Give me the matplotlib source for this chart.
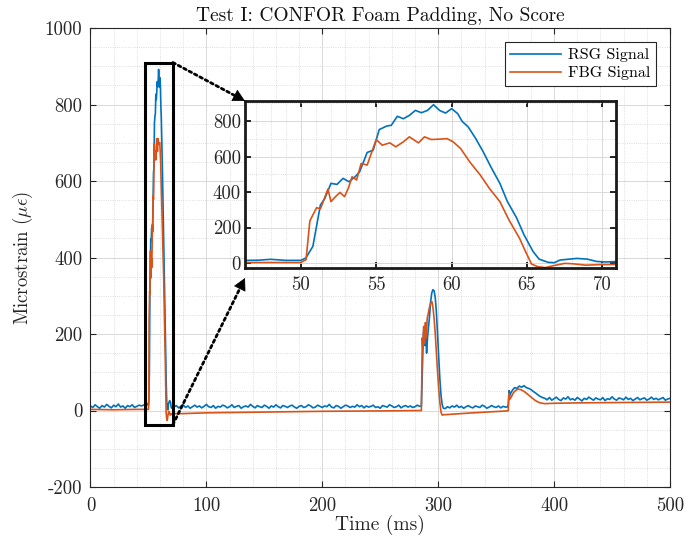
import numpy as np
import matplotlib
matplotlib.use('Agg')
import matplotlib.pyplot as plt
from matplotlib.patches import Rectangle, FancyArrowPatch
from matplotlib.ticker import MultipleLocator
import warnings
warnings.filterwarnings('ignore')

plt.rcParams['font.family'] = 'serif'
plt.rcParams['font.serif'] = ['cmr10']
plt.rcParams['mathtext.fontset'] = 'cm'
plt.rcParams['axes.unicode_minus'] = False

# ---------------- data ----------------
title = 'Test I: CONFOR Foam Padding, No Score'
labels = ['RSG Signal', 'FBG Signal']

# RSG (blue) baseline noise segments
rsg_base1 = [12, 8, 15, 10, 6, 13, 9, 16, 11, 7, 14, 10, 17, 9, 12, 6, 13, 10, 15, 8, 11, 14, 12]
rsg_base2 = [9, 13, 7, 11, 15, 8, 12, 6, 10, 14, 9, 12, 7, 11, 16, 10, 8, 13, 6, 11, 9, 14, 12, 7,
             10, 15, 8, 11, 13, 6, 10, 12, 9, 16, 11, 7, 13, 10, 8, 14, 11, 6, 12, 9, 15, 10, 7, 13,
             11, 8, 12, 14, 9, 6, 11, 13, 8, 10, 15, 12, 7, 9, 14, 11, 8, 12, 10, 16, 9, 7, 13, 11,
             6, 10, 14, 12, 8, 11, 9, 15, 10, 13, 7, 12, 9, 11, 14, 8, 10, 6, 13, 11, 9, 15, 12, 8,
             10, 14, 7, 11, 13, 9, 12, 8, 10, 14, 11]
rsg_base3 = [5, 10, 7, 12, 9, 14, 8, 11, 6, 10, 13, 9, 7, 12, 10, 8, 14, 11, 6, 9, 13, 10, 8, 12, 7, 11, 9]
rsg_base4 = [32, 28, 34, 27, 31, 35, 29, 26, 33, 30, 36, 28, 31, 27, 34, 30, 25, 32, 29, 35, 31, 27,
             33, 30, 28, 34, 26, 31, 29, 36, 30, 27, 33, 31, 28, 35, 29, 32, 26, 30, 34, 28, 31, 33,
             27, 30, 35, 29, 32, 28, 31, 34, 27, 30, 32]

# RSG pulses
rsg_p1_t = [46.3, 47.2, 48.0, 49.0, 50.0, 50.33, 50.8, 51.3, 51.6, 52.0, 52.4, 52.8, 53.2, 53.6, 53.9,
            54.4, 54.8, 55.2, 55.7, 56.0, 56.4, 56.8, 57.2, 57.6, 58.0, 58.4, 58.8, 59.2, 59.6, 60.0,
            60.4, 60.7, 61.1, 61.6, 62.1, 62.6, 63.2, 63.7, 64.3, 64.8, 65.4, 65.8, 66.4, 66.8, 67.2,
            67.8, 68.3, 69.0, 69.6, 70.2, 70.8]
rsg_p1_v = [15, 16, 21, 15, 15, 28, 94, 327, 365, 449, 443, 477, 458, 486, 514,
            623, 636, 752, 772, 776, 827, 813, 832, 860, 847, 860, 892, 860, 845, 870,
            842, 798, 767, 701, 626, 542, 449, 346, 256, 159, 65, 22, 4, 2, 17,
            22, 26, 22, 9, 6, 8]
rsg_p2_t = [285.5, 286.3, 287.2, 287.8, 288.5, 289.2, 290.0, 290.8, 291.6, 292.5, 293.5, 294.5,
            295.5, 296.5, 297.5, 298.5, 299.5, 300.5, 301.5, 302.5, 303.5, 304.5]
rsg_p2_v = [12, 100, 200, 218, 170, 205, 150, 190, 215, 245, 285, 308,
            316, 313, 295, 255, 195, 135, 80, 38, 15, 6]
rsg_p3_t = [359.5, 360.5, 361.2, 362.0, 363.0, 364.5, 366, 368, 370, 372, 374, 376, 378, 380,
            382, 384, 386, 388, 390]
rsg_p3_v = [9, 15, 52, 40, 48, 55, 60, 58, 64, 61, 65, 60, 58, 55, 50, 46, 41, 37, 34]

# FBG (orange)
fbg_t = [0, 20, 40, 46.3, 50.0, 50.35, 50.6, 50.8, 51.05, 51.3, 51.5, 51.8, 52.0, 52.3, 52.6, 52.9,
         53.15, 53.4, 53.7, 54.0, 54.4, 54.75, 55.0, 55.4, 55.9, 56.3, 56.8, 57.2, 57.8, 58.2,
         58.65, 59.2, 59.7, 60.1, 60.6, 61.2, 61.9, 62.5, 63.2, 63.8, 64.5, 64.9, 65.3, 65.7,
         66.2, 66.8, 67.5, 68.0, 68.9, 69.8, 70.8, 80, 100, 150, 200, 250, 285.5,
         286.3, 286.8, 287.5, 288.2, 289.0, 289.8, 290.5, 291.5, 292.5, 293.5, 294.6, 295.5,
         296.5, 297.5, 298.5, 299.5, 300.5, 301.5, 302.5, 303.5, 304.5, 310, 330, 359.5,
         360.5, 361.0, 362.0, 363.5, 365, 367, 369, 371, 373, 375, 377, 379, 381, 383, 385,
         388, 392, 400, 420, 460, 500]
fbg_v = [3, 2, 3, 3, 3, 19, 237, 271, 312, 305, 350, 417, 346, 374, 398, 374,
         421, 486, 468, 561, 552, 636, 696, 664, 677, 655, 683, 711, 677, 711,
         696, 698, 701, 683, 645, 570, 496, 421, 346, 243, 140, 65, -6, -20,
         -26, -14, -2, -4, -12, -9, -8, -8, -6, -4, -2, -1, 0,
         190, 160, 220, 175, 230, 190, 240, 255, 270, 280, 285, 270,
         240, 200, 150, 100, 55, 20, -5, -12, -11, -10, -6, -1,
         0, 45, 30, 38, 47, 53, 56, 55, 52, 48, 43, 38, 33, 28, 24,
         20, 18, 19, 20, 21, 22]

rsg_t = np.concatenate([np.linspace(0, 44, len(rsg_base1)), rsg_p1_t,
                        np.linspace(72, 284, len(rsg_base2)), rsg_p2_t,
                        np.linspace(306, 358, len(rsg_base3)), rsg_p3_t,
                        np.linspace(392, 500, len(rsg_base4))])
rsg_v = np.concatenate([rsg_base1, rsg_p1_v, rsg_base2, rsg_p2_v, rsg_base3, rsg_p3_v, rsg_base4])

blue = '#0072BD'
orange = '#D95319'
frame = '#262626'

# ---------------- figure ----------------
fig = plt.figure(figsize=(6.88, 5.40), dpi=100)
ax = fig.add_axes([0.1315, 0.0981, 0.9738 - 0.1315, 0.948 - 0.0981])

ax.plot(rsg_t, rsg_v, color=blue, lw=1.2, label=labels[0])
ax.plot(fbg_t, fbg_v, color=orange, lw=1.2, label=labels[1])
ax.set_xlim(0, 500)
ax.set_ylim(-200, 1000)
ax.xaxis.set_major_locator(MultipleLocator(100))
ax.xaxis.set_minor_locator(MultipleLocator(20))
ax.yaxis.set_major_locator(MultipleLocator(200))
ax.yaxis.set_minor_locator(MultipleLocator(50))
ax.grid(which='major', color='#d3d3d3', lw=0.6, ls='-')
ax.grid(which='minor', color='#d3d3d3', lw=0.6, ls=':')
ax.set_axisbelow(True)
ax.tick_params(which='major', direction='in', length=4, width=0.8, top=True, right=True,
               labelsize=13.5, color=frame, labelcolor=frame)
ax.tick_params(axis='x', which='major', pad=7)
ax.tick_params(axis='y', which='major', pad=6)
ax.tick_params(which='minor', length=0, top=True, right=True)
for s in ax.spines.values():
    s.set_color(frame)
    s.set_linewidth(0.8)
ax.set_title(title, fontsize=14, pad=5, color='#111111')
ax.set_xlabel('Time (ms)', fontsize=14, labelpad=0, color='#262626')
ax.set_ylabel(r'Microstrain ($\mu\epsilon$)', fontsize=13.5, labelpad=7, color='#262626')

leg = ax.legend(loc='upper right', fancybox=False, edgecolor=frame, framealpha=1,
                fontsize=11.5, handlelength=3.2, handletextpad=0.4, borderaxespad=0.9,
                borderpad=0.35, labelspacing=0.25)
leg.get_frame().set_linewidth(0.8)

# zoom rectangle
rx0, rx1, ry0, ry1 = 46.8, 71.1, -37, 910
ax.add_patch(Rectangle((rx0, ry0), rx1 - rx0, ry1 - ry0, fill=False, lw=2.2,
                       edgecolor='black', zorder=5))

# inset
axi = fig.add_axes([245 / 688, 1 - 268 / 540, (616 - 245) / 688, (268 - 101) / 540])
axi.plot(rsg_t, rsg_v, color=blue, lw=1.2)
axi.plot(fbg_t, fbg_v, color=orange, lw=1.2)
axi.set_xlim(46.3, 70.9)
axi.set_ylim(-28, 913)
axi.xaxis.set_major_locator(MultipleLocator(5))
axi.xaxis.set_minor_locator(MultipleLocator(1))
axi.yaxis.set_major_locator(MultipleLocator(200))
axi.yaxis.set_minor_locator(MultipleLocator(100))
axi.grid(which='major', color='#d3d3d3', lw=0.6, ls='-')
axi.grid(which='minor', color='#d3d3d3', lw=0.6, ls=':')
axi.set_axisbelow(True)
axi.tick_params(which='major', direction='in', length=4, width=1.2, top=True, right=True,
                labelsize=13.5, labelcolor=frame)
axi.tick_params(axis='x', which='major', pad=6)
axi.tick_params(axis='y', which='major', pad=3)
axi.tick_params(which='minor', length=0)
for s in axi.spines.values():
    s.set_color('#1a1a1a')
    s.set_linewidth(2.0)

# connector arrows: dotted shaft + solid head
def connector(start_data, end_axes_frac, head_px=11):
    p0 = np.array(ax.transData.transform(start_data))
    p1 = np.array(axi.transAxes.transform(end_axes_frac))
    u = (p1 - p0) / np.hypot(*(p1 - p0))
    pm = p1 - u * head_px
    fig.add_artist(FancyArrowPatch(
        posA=tuple(p0), posB=tuple(pm), transform=None, arrowstyle='-', color='black',
        lw=2.0, ls=(0, (1, 1.2)), shrinkA=0, shrinkB=0, zorder=10))
    fig.add_artist(FancyArrowPatch(
        posA=tuple(pm - u * 1), posB=tuple(p1), transform=None,
        arrowstyle='-|>,head_length=%f,head_width=%f' % (head_px / 14.0 * 0.72, 0.3),
        mutation_scale=14, color='black', lw=0.5, shrinkA=0, shrinkB=0, zorder=10))

connector((rx1, ry1), (0, 1))
connector((rx1, ry0), (0, -0.06))

fig.savefig('out.png', dpi=100)
